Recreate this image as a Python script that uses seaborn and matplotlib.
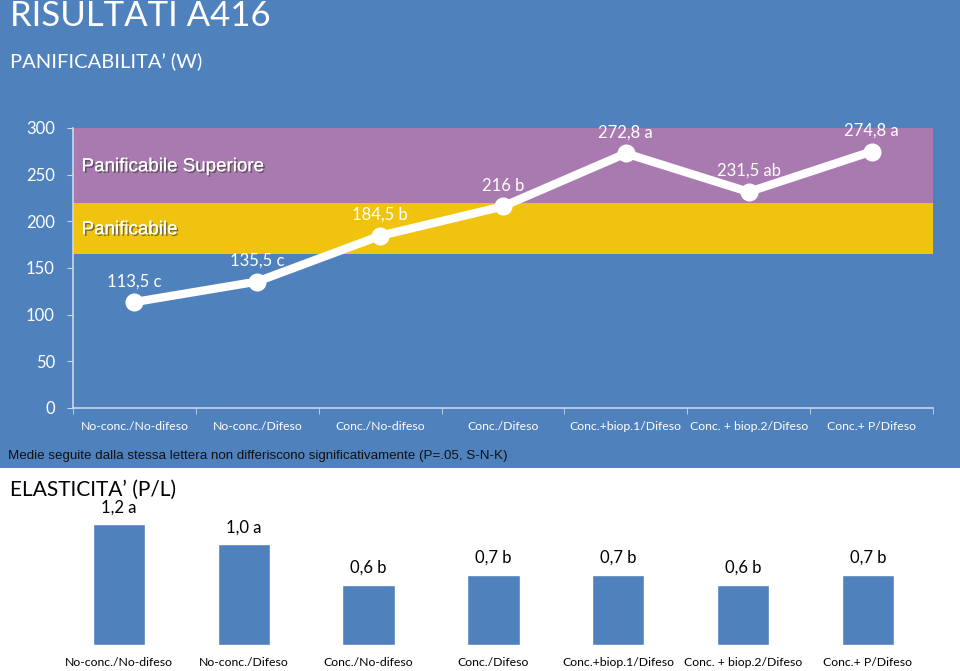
import matplotlib
matplotlib.use("Agg")
import matplotlib.pyplot as plt
import matplotlib.patheffects as pe
from matplotlib.patches import Rectangle
import seaborn as sns

# dati
categorie = ["No-conc./No-difeso", "No-conc./Difeso", "Conc./No-difeso", "Conc./Difeso",
             "Conc.+biop.1/Difeso", "Conc. + biop.2/Difeso", "Conc.+ P/Difeso"]
w_valori = [113.5, 135.5, 184.5, 216.0, 272.8, 231.5, 274.8]
w_etichette = ["113,5 c", "135,5 c", "184,5 b", "216 b", "272,8 a", "231,5 ab", "274,8 a"]
pl_valori = [1.2, 1.0, 0.6, 0.7, 0.7, 0.6, 0.7]
pl_etichette = ["1,2 a", "1,0 a", "0,6 b", "0,7 b", "0,7 b", "0,6 b", "0,7 b"]
fasce = [(165, 220, "Panificabile"), (220, 300, "Panificabile Superiore")]

BLU = "#4F81BD"
VIOLA = "#A97AAF"
GIALLO = "#F0C30F"

sns.set_style("white")
plt.rcParams["font.family"] = ["Lato", "DejaVu Sans"]

W, H = 960, 671
fig = plt.figure(figsize=(W / 100, H / 100), dpi=100, facecolor="white")
fig.patches.append(Rectangle((0, 1 - 468 / H), 1, 468 / H, transform=fig.transFigure,
                             facecolor=BLU, edgecolor="none", zorder=-10))

fig.text(10 / W, 1 - 16 / H, "RISULTATI A416", color="white", fontsize=25, va="center")
fig.text(10 / W, 1 - 61 / H, "PANIFICABILITA\u2019 (W)", color="white", fontsize=14.5, va="center")

# grafico W
ax1 = fig.add_axes([73 / W, 1 - 408 / H, 860 / W, 280 / H])
ax1.set_facecolor("none")
for basso, alto, nome in fasce:
    ax1.axhspan(basso, alto, color=VIOLA if alto == 300 else GIALLO, zorder=0, lw=0)
sns.lineplot(x=categorie, y=w_valori, ax=ax1, color="white", linewidth=6, marker="o",
             markersize=13, markeredgewidth=0, sort=False, zorder=3)
ax1.set_xlim(-0.5, 6.5)
ax1.set_ylim(0, 300)
ax1.set_yticks(range(0, 301, 50))
for i, (v, t) in enumerate(zip(w_valori, w_etichette)):
    ax1.annotate(t, (i, v), xytext=(0, 15), textcoords="offset points", ha="center",
                 va="center", color="white", fontsize=12, zorder=4)

ombra = [pe.withSimplePatchShadow(offset=(1.2, -1.2), shadow_rgbFace="#333333", alpha=0.6), pe.Normal()]
ax1.text(-0.43, 258.5, "Panificabile Superiore", color="white", fontsize=13.5,
         family="Liberation Sans", va="center", path_effects=ombra)
ax1.text(-0.43, 191, "Panificabile", color="white", fontsize=13.5,
         family="Liberation Sans", va="center", path_effects=ombra)

for s in ["top", "right"]:
    ax1.spines[s].set_visible(False)
for s in ["left", "bottom"]:
    ax1.spines[s].set_color("#C9D7EA")
    ax1.spines[s].set_linewidth(1.2)
ax1.tick_params(axis="y", colors="#C9D7EA", labelcolor="white", labelsize=12,
                length=4, pad=9, left=True)
ax1.tick_params(axis="x", which="major", length=0, labelcolor="white", labelsize=8.8, pad=9)
ax1.set_xticks([i + 0.5 for i in range(-1, 7)], minor=True)
ax1.tick_params(axis="x", which="minor", length=4, color="#C9D7EA", bottom=True)
ax1.set_xlabel("")
ax1.set_ylabel("")

fig.text(8 / W, 1 - 456 / H,
         "Medie seguite dalla stessa lettera non differiscono significativamente (P=.05, S-N-K)",
         color="#111111", fontsize=9.6, family="Liberation Sans", va="center")

# grafico P/L
fig.text(10 / W, 1 - 490 / H, "ELASTICITA\u2019 (P/L)", color="black", fontsize=15, va="center")
ax2 = fig.add_axes([56.6 / W, 1 - 645 / H, 873.6 / W, 130.8 / H])
ax2.set_facecolor("none")
sns.barplot(x=categorie, y=pl_valori, ax=ax2, color=BLU, saturation=1, width=0.42)
ax2.set_xlim(-0.5, 6.5)
ax2.set_ylim(0, 1.3)
for i, (v, t) in enumerate(zip(pl_valori, pl_etichette)):
    ax2.annotate(t, (i, v), xytext=(0, 12), textcoords="offset points", ha="center",
                 va="center", color="black", fontsize=12)
for s in ax2.spines.values():
    s.set_visible(False)
ax2.set_yticks([])
ax2.tick_params(axis="x", length=0, labelsize=8.8, labelcolor="black", pad=9)
ax2.set_xlabel("")
ax2.set_ylabel("")

fig.savefig("out.png", dpi=100, facecolor=fig.get_facecolor())
